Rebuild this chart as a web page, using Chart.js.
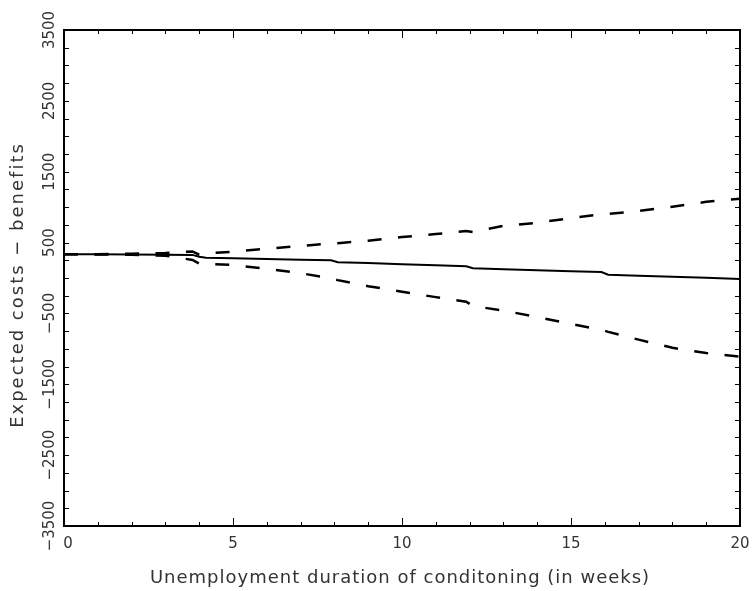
<!DOCTYPE html>
<html>
<head>
<meta charset="utf-8">
<script src="https://cdn.jsdelivr.net/npm/chart.js@4.4.1/dist/chart.umd.min.js"></script>
<style>
  html, body { margin: 0; padding: 0; background: #fff; }
  #wrap { width: 753px; height: 591px; }
</style>
</head>
<body>
<div id="wrap"><canvas id="grafico"></canvas></div>
<script>
// Dados
const semanas = [0, 1, 2, 3, 3.8, 4, 4.2, 5, 6, 7, 7.9, 8.1, 9, 10, 11, 11.9, 12.1, 13, 14, 15, 15.9, 16.1, 17, 18, 19, 20];
const estimativa = [335, 334, 332, 329, 326, 300, 285, 280, 268, 258, 250, 222, 210, 195, 180, 165, 137, 125, 110, 97, 84, 47, 33, 18, 2, -14];
const limiteSup = [335, 336, 342, 352, 375, 330, 345, 372, 413, 452, 488, 492, 525, 578, 620, 663, 650, 735, 780, 845, 900, 905, 945, 1005, 1075, 1120];
const limiteInf = [335, 333, 327, 315, 255, 205, 200, 183, 130, 68, -5, -30, -115, -195, -270, -334, -395, -460, -550, -650, -730, -760, -870, -985, -1060, -1110];

const yRotulos = [-3500, -2500, -1500, -500, 500, 1500, 2500, 3500];
const xRotulos = [0, 5, 10, 15, 20];
const tituloX = 'Unemployment duration of conditoning (in weeks)';
const tituloY = 'Expected costs \u2212 benefits';

const corTexto = '#333';
const fonte = '"DejaVu Sans", sans-serif';

function pontos(valores) {
    return semanas.map((s, i) => ({ x: s, y: valores[i] }));
}

// moldura, tracinhos internos, rótulos e títulos
const molduraPlugin = {
    id: 'moldura',
    afterDraw(chart) {
        const { ctx, chartArea: a, scales: { x, y } } = chart;
        ctx.save();
        ctx.strokeStyle = '#000';
        ctx.lineWidth = 1;

        y.ticks.forEach(t => {
            const py = Math.round(y.getPixelForValue(t.value)) + 0.5;
            ctx.beginPath();
            ctx.moveTo(a.left, py); ctx.lineTo(a.left + 5, py);
            ctx.moveTo(a.right - 5, py); ctx.lineTo(a.right, py);
            ctx.stroke();
        });
        x.ticks.forEach(t => {
            const px = Math.round(x.getPixelForValue(t.value)) + 0.5;
            const len = t.value % 5 === 0 ? 8 : 4;
            ctx.beginPath();
            ctx.moveTo(px, a.bottom); ctx.lineTo(px, a.bottom - len);
            ctx.moveTo(px, a.top); ctx.lineTo(px, a.top + len);
            ctx.stroke();
        });

        ctx.lineWidth = 2;
        ctx.strokeRect(a.left, a.top, a.right - a.left, a.bottom - a.top);

        ctx.fillStyle = corTexto;
        ctx.font = '15px ' + fonte;
        ctx.textAlign = 'center';
        ctx.textBaseline = 'middle';

        // rótulos do eixo x
        xRotulos.forEach(v => {
            ctx.fillText(String(v), x.getPixelForValue(v) + (v === 0 ? 4 : 0), a.bottom + 18);
        });

        // rótulos do eixo y (girados)
        yRotulos.forEach(v => {
            const py = y.getPixelForValue(v);
            ctx.save();
            ctx.translate(50, py);
            ctx.rotate(-Math.PI / 2);
            ctx.fillText(v < 0 ? '\u2212' + Math.abs(v) : String(v), 0, 0);
            ctx.restore();
        });

        // títulos
        ctx.font = '18px ' + fonte;
        ctx.letterSpacing = '1px';
        ctx.fillText(tituloX, 400, 578);
        ctx.letterSpacing = '2px';
        ctx.save();
        ctx.translate(18, 285);
        ctx.rotate(-Math.PI / 2);
        ctx.fillText(tituloY, 0, 0);
        ctx.restore();
        ctx.restore();
    }
};

const ctx = document.getElementById('grafico').getContext('2d');
new Chart(ctx, {
    type: 'line',
    data: {
        datasets: [
            {
                data: pontos(limiteSup),
                borderColor: '#000',
                borderWidth: 2.5,
                borderDash: [14, 16.5],
                pointRadius: 0,
                tension: 0
            },
            {
                data: pontos(limiteInf),
                borderColor: '#000',
                borderWidth: 2.5,
                borderDash: [14, 16.5],
                pointRadius: 0,
                tension: 0
            },
            {
                data: pontos(estimativa),
                borderColor: '#000',
                borderWidth: 2,
                pointRadius: 0,
                tension: 0
            }
        ]
    },
    options: {
        responsive: true,
        maintainAspectRatio: false,
        animation: false,
        devicePixelRatio: 1,
        layout: { padding: { top: 30, right: 13, left: 0, bottom: 0 } },
        plugins: { legend: { display: false }, tooltip: { enabled: false } },
        scales: {
            x: {
                type: 'linear',
                min: 0,
                max: 20,
                grid: { display: false, drawTicks: false },
                border: { display: false },
                ticks: { stepSize: 1, display: false },
                afterFit: s => { s.height = 65; }
            },
            y: {
                min: -3500,
                max: 3500,
                grid: { display: false, drawTicks: false },
                border: { display: false },
                ticks: { stepSize: 250, display: false },
                afterFit: s => { s.width = 64; }
            }
        }
    },
    plugins: [molduraPlugin]
});
</script>
</body>
</html>
